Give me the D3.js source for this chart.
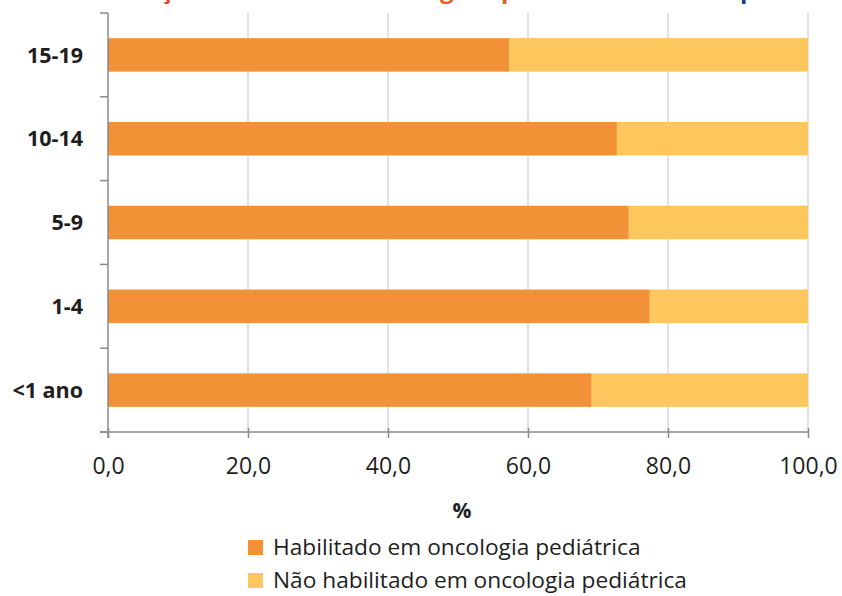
<!DOCTYPE html>
<html>
<head>
<meta charset="utf-8">
<script src="https://cdn.jsdelivr.net/npm/d3@7"></script>
<style>
  html, body { margin: 0; padding: 0; background: #ffffff; }
  svg { display: block; }
  text { font-family: "Open Sans", "DejaVu Sans", sans-serif; }
</style>
</head>
<body>
<svg id="chart" width="842" height="596"></svg>
<script>
// ---- data ----
const categories = ["<1 ano", "1-4", "5-9", "10-14", "15-19"];
const habilitado = [69.1, 77.4, 74.4, 72.7, 57.3];
const naoHabilitado = [30.9, 22.6, 25.6, 27.3, 42.7];
const seriesNames = ["Habilitado em oncologia pediátrica", "Não habilitado em oncologia pediátrica"];
const xTicks = [0, 20, 40, 60, 80, 100];
const axisTitle = "%";
// fragments of the cropped title at the very top
const titleFragments = [
  { t: "ç", x: 160, c: "#e2401f" },
  { t: "g", x: 440, c: "#ea5b1e" },
  { t: "p", x: 501, c: "#ea5b1e" },
  { t: "p", x: 740, c: "#1d3a78" }
];

const colors = ["#f29135", "#fdc75e"];
const textColor = "#1e1e1e";
const axisColor = "#8a8a8a";
const gridColor = "#dadada";

const svg = d3.select("#chart");
const pL = 108, pR = 808, pT = 13, pB = 432;

const x = d3.scaleLinear().domain([0, 100]).range([pL, pR]);
const y = d3.scaleBand()
  .domain(categories.slice().reverse())
  .range([pT, pB])
  .paddingInner(0.6)
  .paddingOuter(0.3);

// title fragments
svg.append("g").selectAll("text").data(titleFragments).join("text")
  .attr("x", d => d.x).attr("y", -2)
  .attr("font-size", 24).attr("font-weight", 700)
  .attr("fill", d => d.c).text(d => d.t);

// gridlines
svg.append("g").selectAll("line").data(xTicks.filter(d => d > 0)).join("line")
  .attr("x1", d => x(d)).attr("x2", d => x(d))
  .attr("y1", pT).attr("y2", pB)
  .attr("stroke", gridColor).attr("stroke-width", 1.5);

// stacked bars
const rows = categories.map((c, i) => ({ cat: c, vals: [habilitado[i], naoHabilitado[i]] }));
const stackData = rows.map(r => {
  let acc = 0;
  return r.vals.map((v, k) => { const s = acc; acc += v; return { cat: r.cat, k, x0: s, x1: acc }; });
}).flat();

svg.append("g").selectAll("rect").data(stackData).join("rect")
  .attr("x", d => x(d.x0))
  .attr("width", d => x(d.x1) - x(d.x0))
  .attr("y", d => y(d.cat))
  .attr("height", y.bandwidth())
  .attr("fill", d => colors[d.k]);

// y axis line & ticks at band boundaries
const step = y.step();
const boundaries = d3.range(categories.length + 1).map(i => pT + i * step);
svg.append("line")
  .attr("x1", pL).attr("x2", pL).attr("y1", pT).attr("y2", pB + 6)
  .attr("stroke", axisColor).attr("stroke-width", 1.5);
svg.append("g").selectAll("line").data(boundaries).join("line")
  .attr("x1", pL - 8).attr("x2", pL)
  .attr("y1", d => d).attr("y2", d => d)
  .attr("stroke", axisColor).attr("stroke-width", 1.5);

// y labels
svg.append("g").selectAll("text").data(categories).join("text")
  .attr("x", 83)
  .attr("y", d => y(d) + y.bandwidth() / 2)
  .attr("dy", "0.36em")
  .attr("text-anchor", "end")
  .attr("font-size", 21.5).attr("font-weight", 700)
  .attr("fill", textColor)
  .text(d => d);

// x axis
const xAxis = d3.axisBottom(x).tickValues(xTicks)
  .tickFormat(d => d3.format(".1f")(d).replace(".", ","))
  .tickSizeInner(6).tickSizeOuter(0).tickPadding(20);
const gx = svg.append("g").attr("transform", `translate(0,${pB})`).call(xAxis);
gx.select(".domain").remove();
gx.append("line").attr("x1", pL - 8).attr("x2", pR).attr("y1", 0).attr("y2", 0)
  .attr("stroke", axisColor).attr("stroke-width", 1.5);
gx.selectAll(".tick line").attr("y1", -4).attr("stroke", axisColor).attr("stroke-width", 1.5);
gx.selectAll(".tick text")
  .attr("y", 34).attr("dy", "0.36em")
  .attr("font-size", 23).attr("font-family", "'Open Sans', sans-serif")
  .attr("font-weight", 500)
  .attr("fill", textColor);

// axis title
svg.append("text")
  .attr("x", 462).attr("y", 510).attr("dy", "0.36em")
  .attr("text-anchor", "middle")
  .attr("font-size", 21).attr("font-weight", 700)
  .attr("fill", textColor).text(axisTitle);

// legend
const legend = svg.append("g").selectAll("g").data(seriesNames).join("g")
  .attr("transform", (d, i) => `translate(248,${540 + i * 33})`);
legend.append("rect").attr("width", 15).attr("height", 15)
  .attr("fill", (d, i) => colors[i]);
legend.append("text")
  .attr("x", 25).attr("y", 15)
  .attr("font-size", 22.7).attr("fill", textColor)
  .text(d => d);
</script>
</body>
</html>
